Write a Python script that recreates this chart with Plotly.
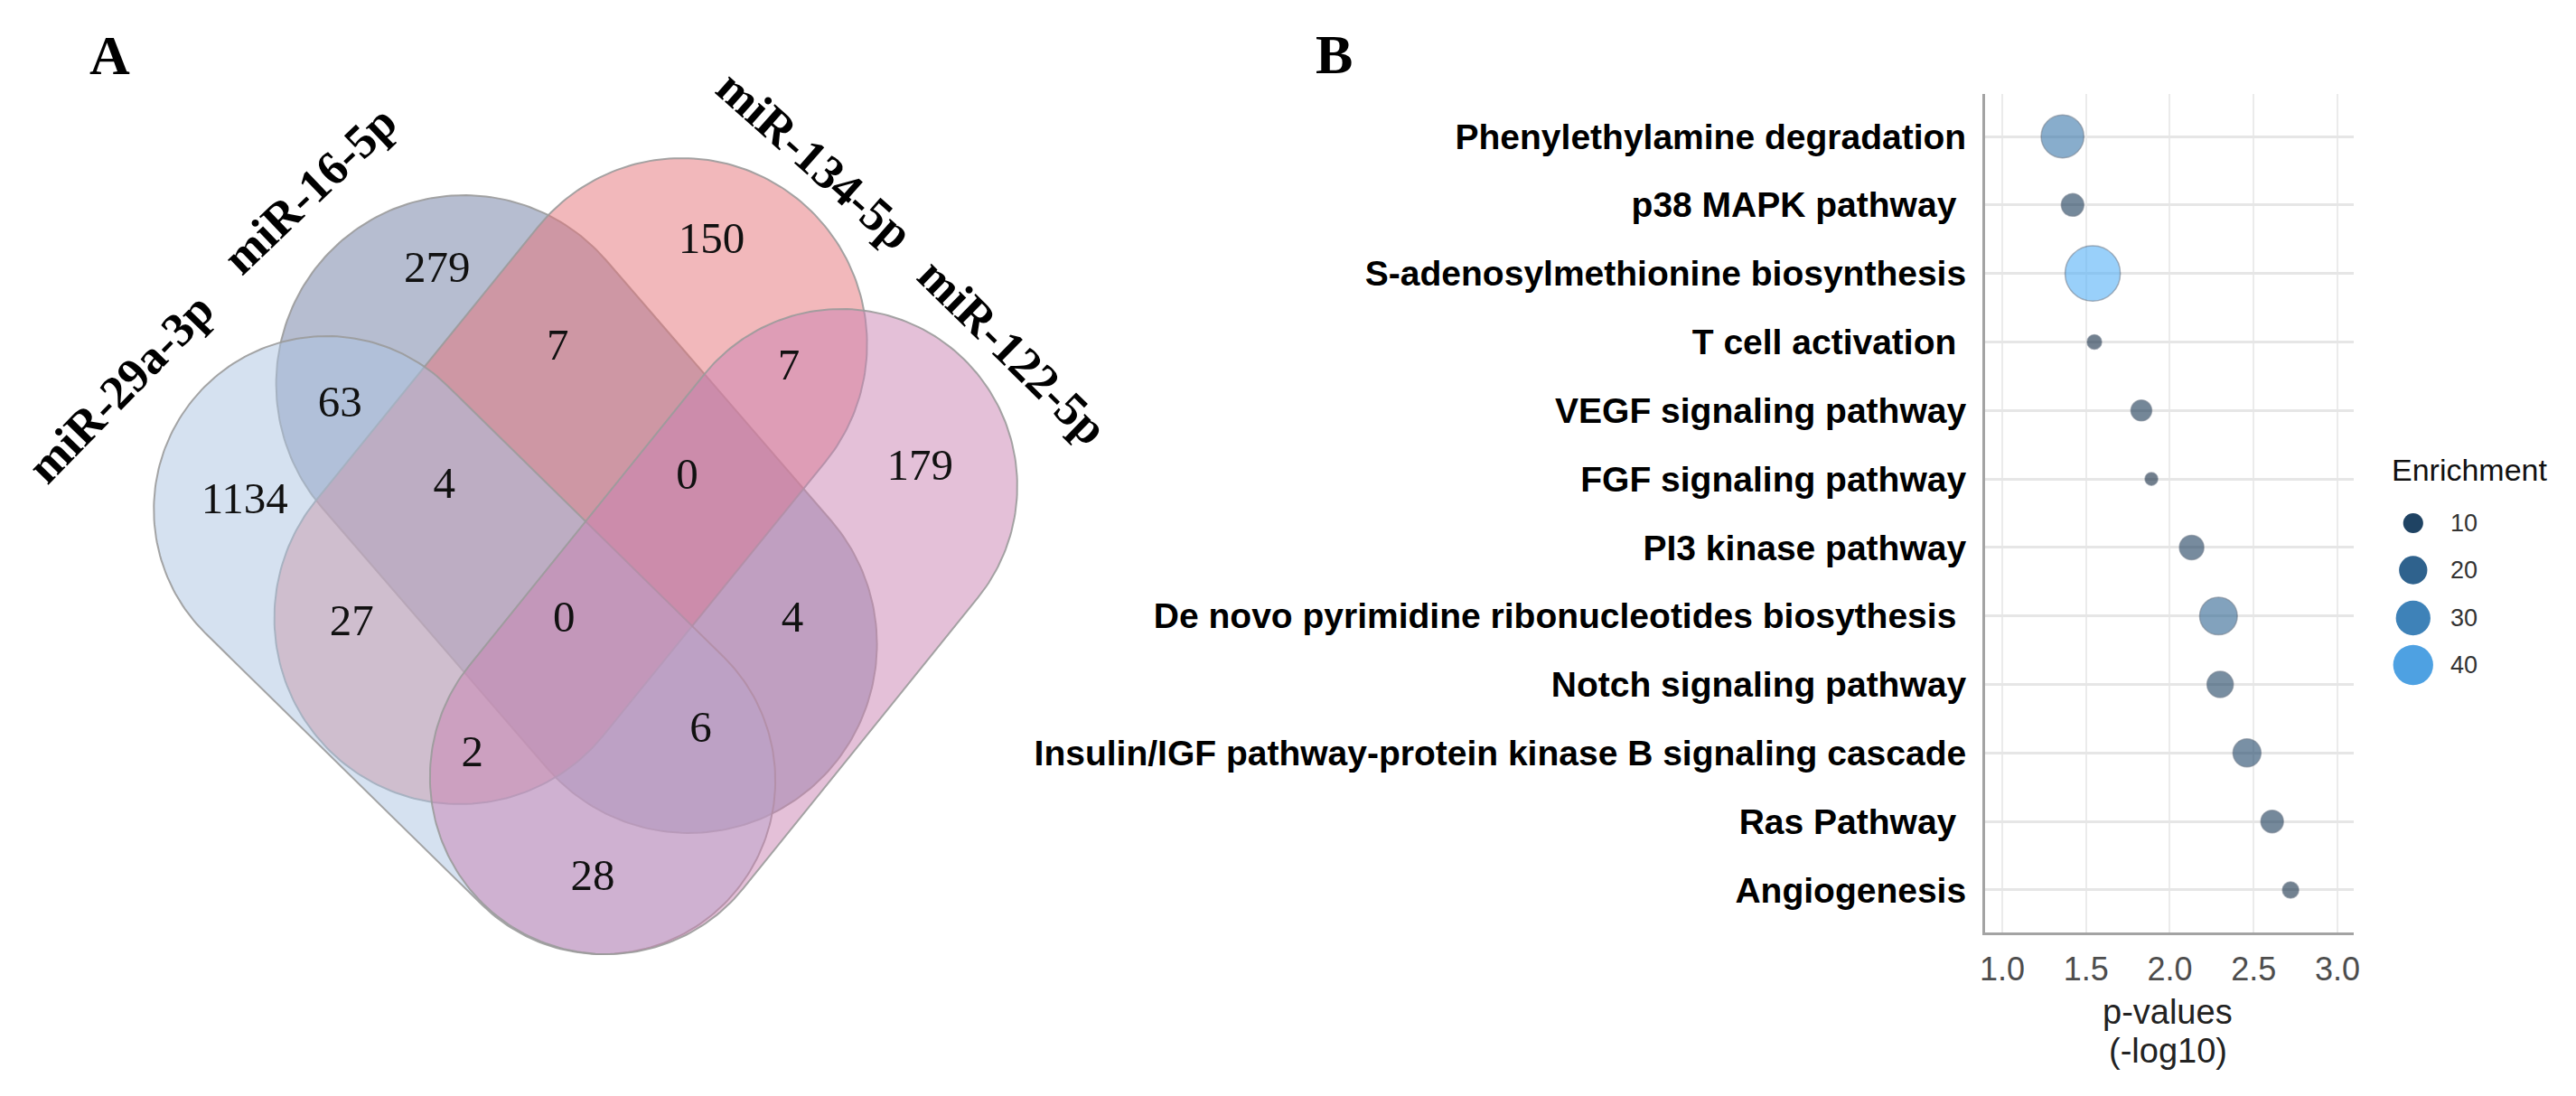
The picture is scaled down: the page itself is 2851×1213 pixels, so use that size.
import numpy as np
import plotly.graph_objects as go

W, H = 2851, 1213

# ---------------- Panel A data (Venn) ----------------
venn_sets = ["miR-29a-3p", "miR-16-5p", "miR-134-5p", "miR-122-5p"]
region_names = ["29a", "16", "134", "122", "29a&16", "16&134", "134&122",
                "29a&16&134", "16&134&122", "29a&134", "all", "16&122",
                "29a&134&122", "29a&16&122", "29a&122"]
region_counts = [1134, 279, 150, 179, 63, 7, 7, 4, 0, 27, 0, 4, 2, 6, 28]

# ---------------- Panel B data (bubble chart) ----------------
pathways = ["Phenylethylamine degradation", "p38 MAPK pathway\u00a0",
            "S-adenosylmethionine biosynthesis", "T cell activation\u00a0",
            "VEGF signaling pathway", "FGF signaling pathway", "PI3 kinase pathway",
            "De novo pyrimidine ribonucleotides biosythesis\u00a0",
            "Notch signaling pathway",
            "Insulin/IGF pathway-protein kinase B signaling cascade",
            "Ras Pathway\u00a0", "Angiogenesis"]
pvalues_log10 = [1.36, 1.42, 1.54, 1.55, 1.83, 1.89, 2.13, 2.29, 2.30, 2.46, 2.61, 2.72]
enrichment = [27.0, 7.5, 45.0, 3.1, 6.4, 2.4, 8.8, 21.0, 10.2, 11.6, 7.5, 3.9]
legend_values = [10, 20, 30, 40]
x_ticks = [1.0, 1.5, 2.0, 2.5, 3.0]

# ---------------- layout geometry (pixels) ----------------
# each set is drawn as a stadium: two cap centres and a radius
stadium_geom = {
    "miR-29a-3p": ((357, 564), (664, 864), 192),
    "miR-16-5p": ((510, 425), (760, 713), 209),
    "miR-134-5p": ((752, 381), (505, 684), 206),
    "miR-122-5p": ((929, 538), (668, 860), 196),
}
fill_colors = {
    "miR-29a-3p": "rgba(171,195,225,0.5)",
    "miR-16-5p": "rgba(109,123,161,0.5)",
    "miR-134-5p": "rgba(229,113,119,0.5)",
    "miR-122-5p": "rgba(201,129,177,0.5)",
}
draw_order = ["miR-16-5p", "miR-134-5p", "miR-29a-3p", "miR-122-5p"]
region_xy = [(266, 556), (480, 300), (785, 268), (1017, 519), (372, 449),
             (614, 386), (871, 408), (488, 539), (758, 529), (385, 691),
             (621, 687), (875, 687), (519, 836), (773, 809), (653, 973)]
set_label_pos = {
    "miR-29a-3p": (128, 429, -45.7),
    "miR-16-5p": (338, 210, -43.7),
    "miR-134-5p": (900, 177, 41.5),
    "miR-122-5p": (1120, 389, 44.4),
}


def px(x):
    return x / W


def py(y):
    return 1 - y / H


def stadium(p1, p2, r, n=120):
    (x1, y1), (x2, y2) = p1, p2
    phi = np.arctan2(y2 - y1, x2 - x1)
    a2 = np.linspace(phi - np.pi / 2, phi + np.pi / 2, n)
    a1 = np.linspace(phi + np.pi / 2, phi + 3 * np.pi / 2, n)
    xs = np.concatenate([x2 + r * np.cos(a2), x1 + r * np.cos(a1), [x2 + r * np.cos(a2[0])]])
    ys = np.concatenate([y2 + r * np.sin(a2), y1 + r * np.sin(a1), [y2 + r * np.sin(a2[0])]])
    return xs, ys


fig = go.Figure()

venn_w = 0.42 * W
for name in draw_order:
    p1, p2, r = stadium_geom[name]
    ex, ey = stadium(p1, p2, r)
    fig.add_trace(go.Scatter(x=ex, y=ey, mode="lines", fill="toself",
                             fillcolor=fill_colors[name],
                             line=dict(color="rgba(155,155,155,0.9)", width=2),
                             xaxis="x2", yaxis="y2", showlegend=False,
                             hoverinfo="skip"))

fig.add_trace(go.Scatter(x=[p[0] for p in region_xy], y=[p[1] for p in region_xy],
                         mode="text", text=[str(c) for c in region_counts],
                         textposition="middle center",
                         textfont=dict(family="Liberation Serif", size=49, color="#111111"),
                         xaxis="x2", yaxis="y2", showlegend=False, hoverinfo="skip"))

annotations = []
for name in venn_sets:
    x, y, ang = set_label_pos[name]
    annotations.append(dict(x=x, y=y, xref="x2", yref="y2", text="<b>%s</b>" % name,
                            showarrow=False, textangle=ang, xanchor="center", yanchor="middle",
                            font=dict(family="Liberation Serif", size=53, color="#000000")))

# panel letters
annotations.append(dict(x=px(116), y=py(61), xref="paper", yref="paper", text="<b>A</b>",
                        showarrow=False, xanchor="center", yanchor="middle",
                        font=dict(family="Liberation Serif", size=62, color="#000")))
annotations.append(dict(x=px(1477), y=py(60), xref="paper", yref="paper", text="<b>B</b>",
                        showarrow=False, xanchor="center", yanchor="middle",
                        font=dict(family="Liberation Serif", size=62, color="#000")))

# ---------------- Panel B ----------------
cs = [[0, "#132B43"], [1, "#56B1F7"]]
emin, emax = min(enrichment), max(enrichment)
fig.add_trace(go.Scatter(
    x=pvalues_log10, y=list(range(len(pathways))), mode="markers",
    marker=dict(size=9.1 * np.sqrt(np.array(enrichment)), sizemode="diameter",
                color=enrichment, colorscale=cs, cmin=emin, cmax=emax, opacity=0.6,
                line=dict(width=1.5, color="rgba(25,45,70,0.6)")),
    xaxis="x", yaxis="y", showlegend=False))

# custom size/colour legend (own small axis, pixel units)
lx0, lx1 = 2623, W
legend_y = [579, 631, 684, 736]
fig.add_trace(go.Scatter(
    x=[2677] * len(legend_values), y=legend_y, mode="markers",
    marker=dict(size=7.0 * np.sqrt(np.array(legend_values)), sizemode="diameter",
                color=legend_values, colorscale=cs, cmin=emin, cmax=emax, opacity=1,
                line=dict(width=0)),
    xaxis="x3", yaxis="y3", showlegend=False, hoverinfo="skip"))
for v, yy in zip(legend_values, legend_y):
    annotations.append(dict(x=px(2716), y=py(yy), xref="paper", yref="paper", text=str(v),
                            showarrow=False, xanchor="left", yanchor="middle",
                            font=dict(family="Liberation Sans", size=27, color="#333333")))
annotations.append(dict(x=px(2651), y=py(520), xref="paper", yref="paper", text="Enrichment",
                        showarrow=False, xanchor="left", yanchor="middle",
                        font=dict(family="Liberation Sans", size=34, color="#111111")))

# x title
annotations.append(dict(x=px(2404), y=py(1120), xref="paper", yref="paper", text="p-values",
                        showarrow=False, xanchor="center", yanchor="middle",
                        font=dict(family="Liberation Sans", size=38, color="#222222")))
annotations.append(dict(x=px(2404), y=py(1163), xref="paper", yref="paper", text="(-log10)",
                        showarrow=False, xanchor="center", yanchor="middle",
                        font=dict(family="Liberation Sans", size=38, color="#222222")))

fig.update_layout(
    width=W, height=H, margin=dict(l=0, r=0, t=0, b=0),
    paper_bgcolor="white", plot_bgcolor="white",
    annotations=annotations,
    xaxis=dict(domain=[px(2201), px(2611)], range=[0.898, 3.097], anchor="y",
               tickmode="array", tickvals=x_ticks, ticktext=["%.1f" % v for v in x_ticks],
               showgrid=True, gridcolor="#EBEBEB", gridwidth=1.5,
               showline=True, linecolor="#A3A3A3", linewidth=3, zeroline=False,
               ticks="", ticklabelstandoff=7,
               tickfont=dict(family="Liberation Sans", size=36, color="#4D4D4D")),
    yaxis=dict(domain=[py(1032), py(104)], range=[11.62, -0.62], anchor="x",
               tickmode="array", tickvals=list(range(len(pathways))), ticktext=pathways,
               showgrid=True, gridcolor="#E6E6E6", gridwidth=3,
               showline=True, linecolor="#A3A3A3", linewidth=3, zeroline=False,
               ticks="", ticklabelstandoff=10,
               tickfont=dict(family="Liberation Sans", size=39, color="#000000", weight="bold")),
    xaxis2=dict(domain=[0, 0.42], range=[0, venn_w], visible=False, anchor="y2"),
    yaxis2=dict(domain=[0, 1], range=[H, 0], visible=False, anchor="x2"),
    xaxis3=dict(domain=[px(lx0), 1], range=[lx0, lx1], visible=False, anchor="y3"),
    yaxis3=dict(domain=[0, 1], range=[H, 0], visible=False, anchor="x3"),
)

fig.write_html("out.html", config={"displayModeBar": False},
               post_script="document.body.style.margin='0px';"
                           "document.body.style.overflow='hidden';")
